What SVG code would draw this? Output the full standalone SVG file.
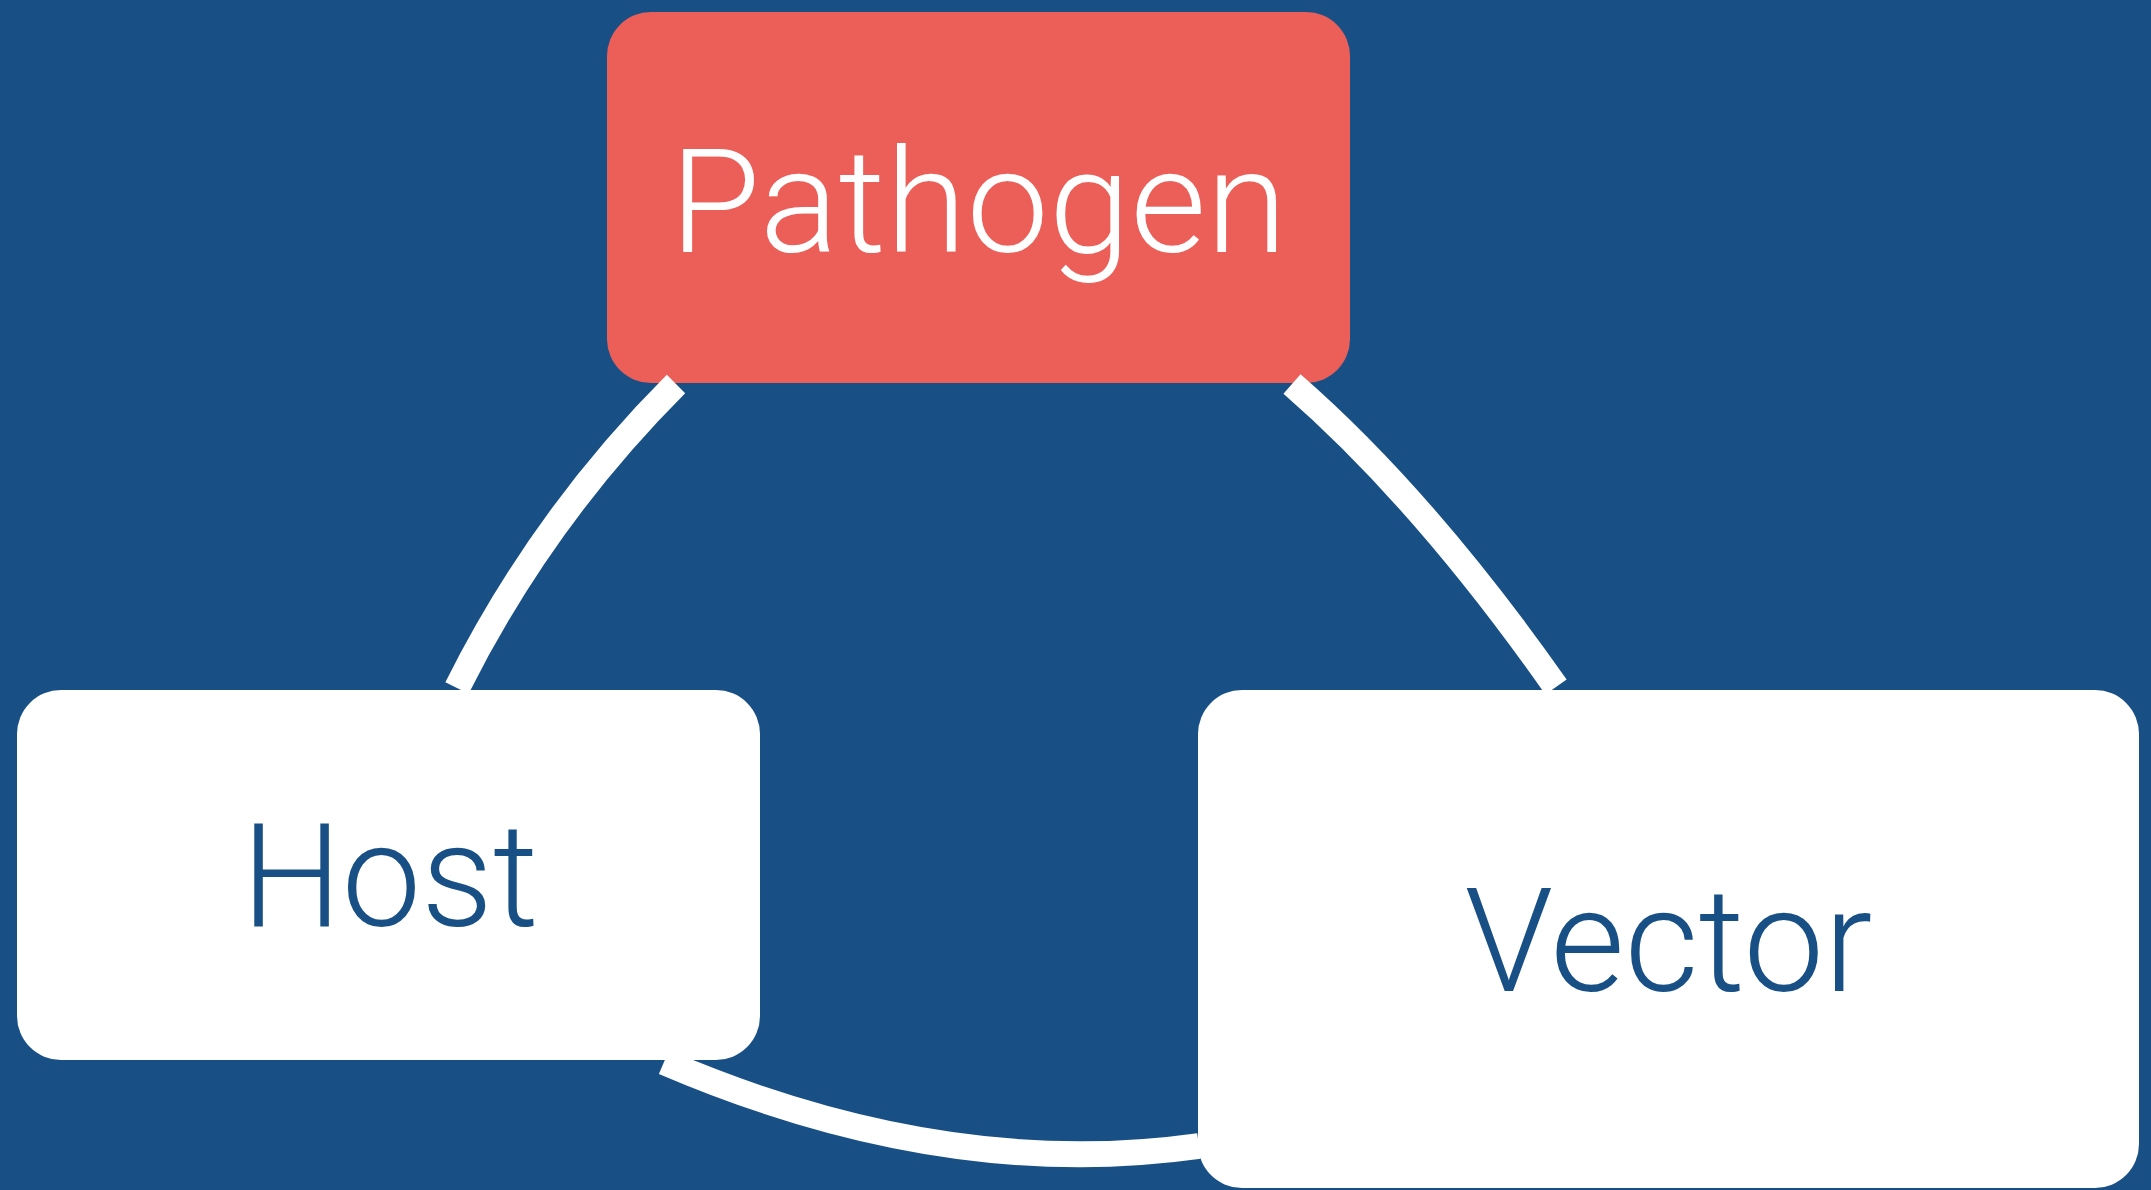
<svg xmlns="http://www.w3.org/2000/svg" width="2151" height="1190" viewBox="0 0 2151 1190">
<style>
.lbl{font-family:Roboto,"Liberation Sans",Arial,sans-serif;font-weight:300;font-size:145px;text-anchor:middle}
.conn{fill:none;stroke:#ffffff;stroke-width:26;stroke-linecap:butt}
</style>
<rect x="0" y="0" width="2151" height="1190" fill="#185086"/>
<g id="pathogen">
<rect x="607" y="12" width="743" height="371" rx="44" ry="44" fill="#EC5F59"/>
<text class="lbl" x="978.5" y="252" fill="#ffffff" textLength="617" lengthAdjust="spacingAndGlyphs">Pathogen</text>
</g>
<g id="host">
<rect x="17" y="690" width="743" height="370" rx="44" ry="44" fill="#ffffff"/>
<text class="lbl" x="390" y="926" fill="#185086" textLength="297" lengthAdjust="spacingAndGlyphs">Host</text>
</g>
<g id="vector">
<rect x="1198" y="690" width="941" height="498" rx="44" ry="44" fill="#ffffff"/>
<text class="lbl" x="1668.5" y="991" fill="#185086" textLength="408" lengthAdjust="spacingAndGlyphs">Vector</text>
</g>
<g id="connectors">
<path class="conn" d="M676,384 Q542,518 457,688"/>
<path class="conn" d="M1292,384 Q1424,499 1556,687"/>
<path class="conn" d="M664,1062 Q944,1182 1199,1146"/>
</g>
</svg>
